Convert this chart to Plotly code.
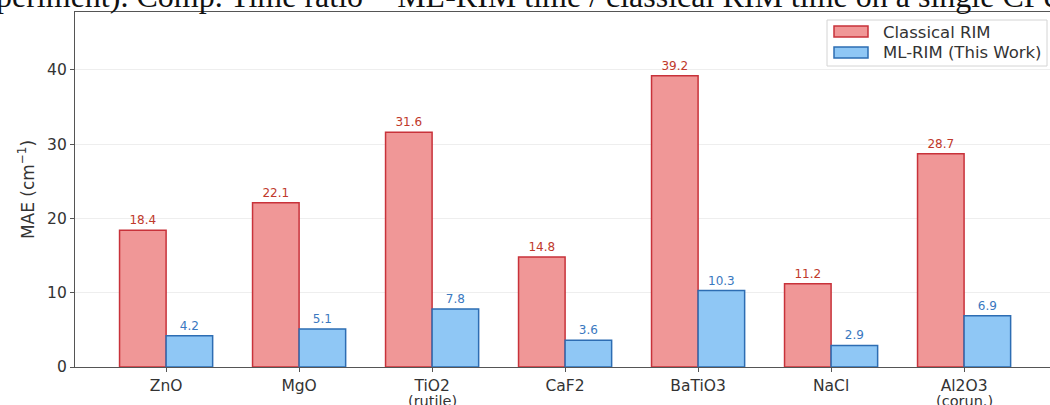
import plotly.graph_objects as go

# Materials and mean absolute errors of the phonon frequencies (cm^-1)
materials = ["ZnO", "MgO", "TiO2", "CaF2", "BaTiO3", "NaCl", "Al2O3"]
phases = ["", "", "(rutile)", "", "", "", "(corun.)"]
classical_mae = [18.4, 22.1, 31.6, 14.8, 39.2, 11.2, 28.7]
ml_rim_mae = [4.2, 5.1, 7.8, 3.6, 10.3, 2.9, 6.9]
y_ticks = [0, 10, 20, 30, 40]
series_names = ["Classical RIM", "ML-RIM (This Work)"]

caption_tail = "periment). Comp. Time ratio = ML-RIM time / classical RIM time on a single CPU"

RED_FILL, RED_EDGE, RED_TEXT = "#f09797", "#c8323a", "#c0392b"
BLUE_FILL, BLUE_EDGE, BLUE_TEXT = "#8fc7f5", "#2d6db3", "#3a78c0"
TEXT_GREY = "#333333"
TICK_FONT = dict(family="DejaVu Sans", size=15.5, color=TEXT_GREY)

W, H = 1050, 405
M_L, M_R, M_T, M_B = 75, 0, 12, 38
PW, PH = W - M_L - M_R, H - M_T - M_B


def px_x(px):
    """Horizontal pixel position -> paper fraction."""
    return (px - M_L) / PW


def px_y(py):
    """Vertical pixel position (from top) -> paper fraction."""
    return (H - M_B - py) / PH


x = list(range(len(materials)))

fig = go.Figure()
for vals, name, fill, edge, tcol in [
    (classical_mae, series_names[0], RED_FILL, RED_EDGE, RED_TEXT),
    (ml_rim_mae, series_names[1], BLUE_FILL, BLUE_EDGE, BLUE_TEXT),
]:
    fig.add_trace(go.Bar(
        x=x, y=vals, name=name,
        marker=dict(color=fill, line=dict(color=edge, width=1.5)),
        text=[f"{v:.1f}" for v in vals], textposition="outside",
        textfont=dict(family="DejaVu Sans", size=12, color=tcol),
        cliponaxis=False,
    ))

# legend box drawn with wide colour patches
legend_shapes = [
    dict(type="rect", xref="paper", yref="paper",
         x0=px_x(827), x1=px_x(1047), y0=px_y(66), y1=px_y(20),
         fillcolor="rgba(255,255,255,0.85)", line=dict(color="#d4d4d4", width=1), layer="above"),
    dict(type="rect", xref="paper", yref="paper",
         x0=px_x(834), x1=px_x(868), y0=px_y(37), y1=px_y(26),
         fillcolor=RED_FILL, line=dict(color=RED_EDGE, width=1.5), layer="above"),
    dict(type="rect", xref="paper", yref="paper",
         x0=px_x(834), x1=px_x(868), y0=px_y(58), y1=px_y(47),
         fillcolor=BLUE_FILL, line=dict(color=BLUE_EDGE, width=1.5), layer="above"),
]
legend_texts = [
    dict(text=series_names[0], xref="paper", yref="paper", x=px_x(881), y=px_y(32),
         xanchor="left", yanchor="middle", showarrow=False,
         font=dict(family="DejaVu Sans", size=16.5, color=TEXT_GREY)),
    dict(text=series_names[1], xref="paper", yref="paper", x=px_x(881), y=px_y(53),
         xanchor="left", yanchor="middle", showarrow=False,
         font=dict(family="DejaVu Sans", size=16.5, color=TEXT_GREY)),
]

# second line of the category labels (crystal phase), set tight under the name
phase_texts = [
    dict(text=p, xref="x", yref="paper", x=i, y=px_y(400.5),
         xanchor="center", yanchor="middle", showarrow=False,
         font=dict(family="DejaVu Sans", size=14.5, color=TEXT_GREY))
    for i, p in enumerate(phases) if p
]

caption = dict(
    text=caption_tail, xref="paper", yref="paper",
    x=px_x(0), y=1.0, xanchor="left", yanchor="bottom", yshift=-4, xshift=-6,
    showarrow=False,
    font=dict(family="Liberation Serif", size=32, color="#111111"),
)

fig.update_layout(
    width=W, height=H,
    margin=dict(l=M_L, r=M_R, t=M_T, b=M_B, autoexpand=False),
    paper_bgcolor="white", plot_bgcolor="white",
    barmode="group", bargap=0.3, bargroupgap=0,
    showlegend=False,
    xaxis=dict(
        tickmode="array", tickvals=x, ticktext=materials,
        range=[-0.685, 6.646], automargin=False,
        showline=True, linecolor="#555555", linewidth=1.2, mirror=True,
        ticks="outside", ticklen=4, tickcolor="#555555",
        tickfont=TICK_FONT, showgrid=False, zeroline=False,
    ),
    yaxis=dict(
        range=[0, 47.8], tickvals=y_ticks, automargin=False,
        showline=True, linecolor="#555555", linewidth=1.2,
        ticks="outside", ticklen=4, tickcolor="#555555",
        tickfont=TICK_FONT,
        showgrid=True, gridcolor="#eeeeee", gridwidth=0.8, zeroline=False,
        title=dict(text="MAE (cm<sup>−1</sup>)",
                   font=dict(family="DejaVu Sans", size=17, color=TEXT_GREY),
                   standoff=8),
    ),
    shapes=legend_shapes,
    annotations=[caption] + legend_texts + phase_texts,
)

fig.write_html("out.html")
